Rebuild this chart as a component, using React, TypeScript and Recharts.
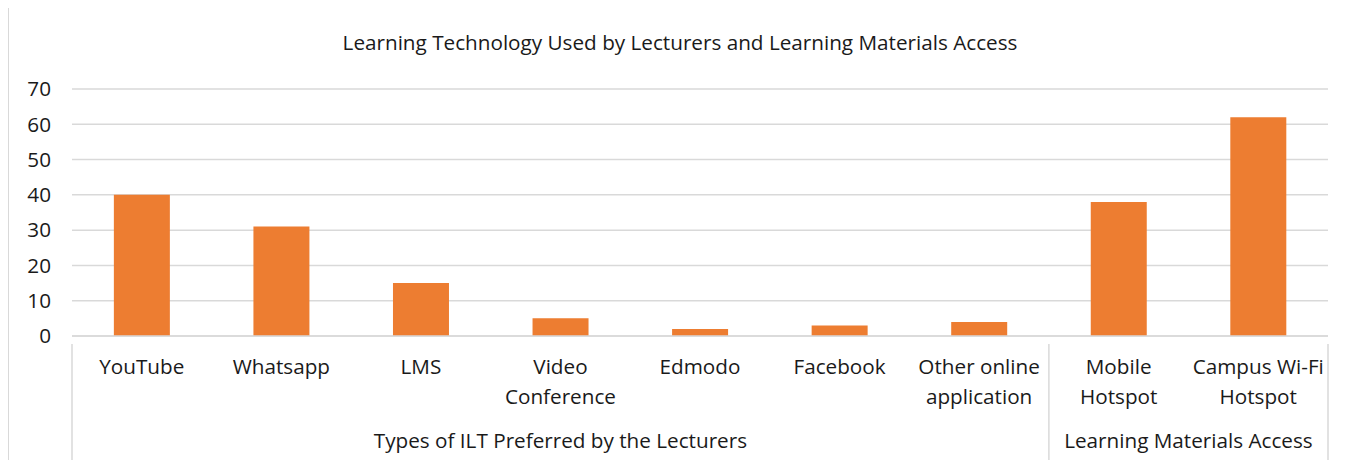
import React from 'react'
import { BarChart, Bar, XAxis, YAxis, CartesianGrid } from 'recharts'

const categories = [
  'YouTube',
  'Whatsapp',
  'LMS',
  'Video Conference',
  'Edmodo',
  'Facebook',
  'Other online application',
  'Mobile Hotspot',
  'Campus Wi-Fi Hotspot',
]
const labelLines: string[][] = [
  ['YouTube'],
  ['Whatsapp'],
  ['LMS'],
  ['Video', 'Conference'],
  ['Edmodo'],
  ['Facebook'],
  ['Other online', 'application'],
  ['Mobile', 'Hotspot'],
  ['Campus Wi-Fi', 'Hotspot'],
]
const values = [40, 31, 15, 5, 2, 3, 4, 38, 62]
const groups = [
  { label: 'Types of ILT Preferred by the Lecturers', start: 0, count: 7 },
  { label: 'Learning Materials Access', start: 7, count: 2 },
]
const yTicks = [0, 10, 20, 30, 40, 50, 60, 70]

const data = categories.map((name, i) => ({ name, value: values[i] }))

const FONT = '"Open Sans", Lato, sans-serif'
const TEXT = '#1a1a1a'
const GRID = '#d9d9d9'
const FS = 20.7

function CategoryTick(props: any) {
  const { x, y, index, width, visibleTicksCount } = props
  const band = width / visibleTicksCount
  const lines = labelLines[index] || []
  const sepBottom = y + 124
  const parts: React.ReactNode[] = []
  lines.forEach((l, k) => {
    parts.push(
      <text key={'l' + k} x={x} y={y + 30 + k * 29.5} textAnchor="middle" fill={TEXT} fontSize={FS} fontFamily={FONT}>
        {l}
      </text>
    )
  })
  groups.forEach((g, gi) => {
    if (g.start === index) {
      const left = x - band / 2
      parts.push(<line key={'s' + gi} x1={left} x2={left} y1={y} y2={sepBottom} stroke={GRID} strokeWidth={1.5} />)
      parts.push(
        <text key={'g' + gi} x={left + (g.count * band) / 2} y={y + 104} textAnchor="middle" fill={TEXT} fontSize={FS} fontFamily={FONT}>
          {g.label}
        </text>
      )
    }
    if (g.start + g.count - 1 === index && gi === groups.length - 1) {
      const right = x + band / 2
      parts.push(<line key={'e' + gi} x1={right} x2={right} y1={y} y2={sepBottom} stroke={GRID} strokeWidth={1.5} />)
    }
  })
  return <g>{parts}</g>
}

export default function App() {
  return (
    <div style={{ position: 'relative', margin: -8, width: 1358, height: 468, overflow: 'hidden', background: '#fff' }}>
      <div
        style={{
          position: 'absolute', left: 8, top: 6, width: 1344, height: 480,
          border: '1.5px solid #d9d9d9', boxSizing: 'border-box',
        }}
      />
      <div
        style={{
          position: 'absolute', left: 8, width: 1344, top: 28, textAlign: 'center',
          fontFamily: FONT, fontSize: FS, color: TEXT,
        }}
      >
        Learning Technology Used by Lecturers and Learning Materials Access
      </div>
      <div style={{ position: 'absolute', left: 0, top: 0 }}>
        <BarChart
          width={1358}
          height={468}
          data={data}
          margin={{ top: 89, right: 30, bottom: 0, left: 12 }}
          barCategoryGap="30%"
        >
          <CartesianGrid vertical={false} stroke={GRID} strokeWidth={1.5} />
          <XAxis
            dataKey="name"
            interval={0}
            height={132}
            tickLine={false}
            axisLine={{ stroke: GRID, strokeWidth: 1.5 }}
            tick={<CategoryTick />}
          />
          <YAxis
            width={60}
            domain={[0, 70]}
            ticks={yTicks}
            axisLine={false}
            tickLine={false}
            tick={{ fill: TEXT, fontSize: FS, fontFamily: FONT, dx: -13 }}
          />
          <Bar dataKey="value" fill="#ED7D31" isAnimationActive={false} />
        </BarChart>
      </div>
    </div>
  )
}
